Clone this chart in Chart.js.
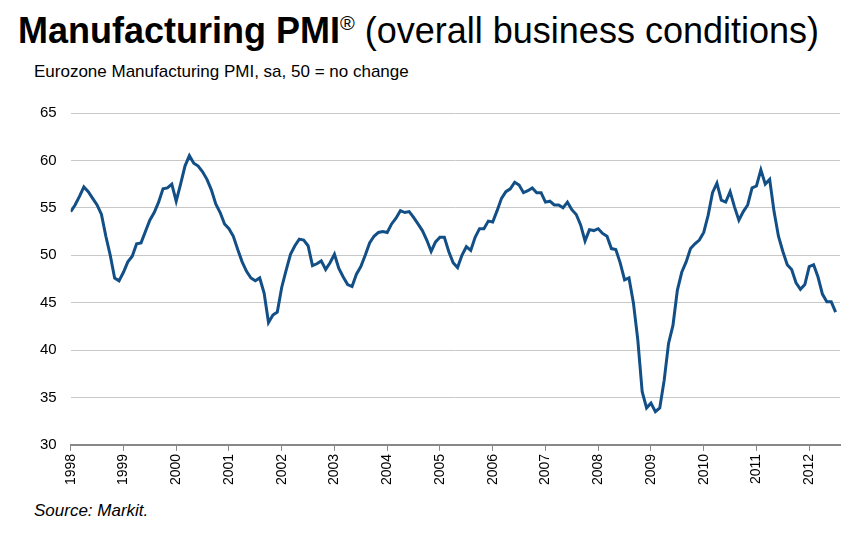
<!DOCTYPE html>
<html><head><meta charset="utf-8">
<script src="https://cdn.jsdelivr.net/npm/chart.js@4"></script>
<style>
body{margin:0;width:858px;height:536px;background:#fff;font-family:Arial,"Liberation Sans",sans-serif;position:relative;overflow:hidden}
#t{position:absolute;left:18px;top:10px;font-size:36px;color:#000;white-space:nowrap}
#t b sup{font-size:20px;font-weight:normal}
#s{position:absolute;left:34px;top:62px;font-size:17px;color:#000}
#src{position:absolute;left:34px;top:501px;font-size:17px;font-style:italic}
#w{position:absolute;left:0;top:90px;width:858px;height:398px}
</style></head><body>
<div id="t"><b>Manufacturing PMI<sup>®</sup></b> (overall business conditions)</div>
<div id="s">Eurozone Manufacturing PMI, sa, 50 = no change</div>
<div id="w"><canvas id="c"></canvas></div>
<div id="src">Source: Markit.</div>
<script>
const years=['1998','1999','2000','2001','2002','2003','2004','2005','2006','2007','2008','2009','2010','2011','2012'];
const pmi=[54.6,55.3,56.2,57.2,56.7,56.0,55.3,54.3,52.0,50.0,47.6,47.3,
48.2,49.3,49.9,51.2,51.3,52.5,53.7,54.5,55.6,57.0,57.1,57.5,
55.7,57.5,59.4,60.5,59.7,59.4,58.8,58.0,56.9,55.4,54.5,53.3,
52.8,52.0,50.6,49.3,48.3,47.6,47.3,47.6,46.0,42.9,43.7,44.0,
46.6,48.4,50.1,51.0,51.7,51.6,51.0,48.9,49.1,49.4,48.5,49.2,
50.1,48.6,47.7,46.9,46.7,48.0,48.8,50.0,51.3,52.0,52.4,52.5,
52.4,53.3,53.9,54.7,54.5,54.6,54.0,53.3,52.6,51.6,50.4,51.4,
51.9,51.9,50.4,49.2,48.7,50.0,50.9,50.5,51.9,52.8,52.8,53.6,
53.5,54.7,56.0,56.7,57.0,57.7,57.4,56.6,56.8,57.1,56.6,56.6,
55.6,55.7,55.3,55.3,55.0,55.6,54.8,54.3,53.2,51.5,52.7,52.6,
52.8,52.3,52.0,50.7,50.6,49.2,47.4,47.6,45.0,41.1,35.6,33.9,
34.4,33.5,33.9,36.8,40.7,42.6,46.3,48.2,49.3,50.7,51.2,51.6,
52.4,54.2,56.6,57.6,55.8,55.6,56.7,55.1,53.7,54.6,55.3,57.1,
57.3,59.0,57.5,58.0,54.6,52.0,50.4,49.0,48.5,47.1,46.4,46.9,
48.8,49.0,47.7,45.9,45.1,45.1,44.0];
const pts=pmi.map((v,i)=>({x:i,y:v}));
new Chart(document.getElementById('c'),{type:'line',
data:{datasets:[{data:pts,borderColor:'#124F86',borderWidth:3,pointRadius:0,tension:0}]},
options:{responsive:true,maintainAspectRatio:false,animation:false,
layout:{padding:{left:26,right:18,top:2,bottom:0}},
plugins:{legend:{display:false},tooltip:{enabled:false}},
scales:{
x:{type:'linear',min:0,max:175,grid:{drawOnChartArea:false,drawTicks:true,tickLength:6,color:'#888'},border:{color:'#888',width:2},
 afterBuildTicks:a=>{a.ticks=years.map((y,i)=>({value:i*12}));},
 ticks:{maxRotation:90,minRotation:90,color:'#000',font:{size:14,family:'Arial'},callback:v=>years[v/12]??''}},
y:{min:30,max:65,grid:{color:'#c8c8c8',drawTicks:false},border:{display:false},
 ticks:{stepSize:5,padding:14,color:'#000',font:{size:15,family:'Arial'}}}
}}});
</script></body></html>
